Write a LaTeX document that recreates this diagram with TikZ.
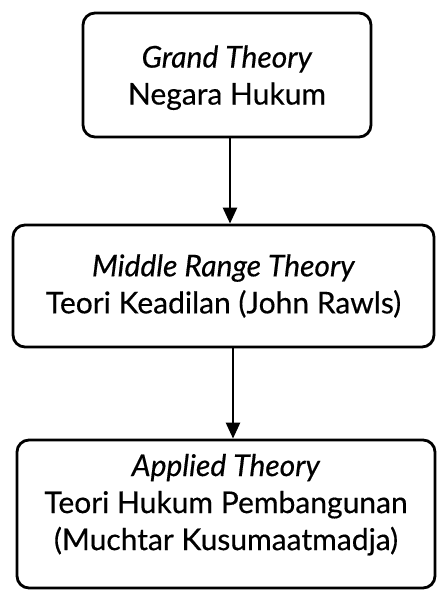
\documentclass[tikz,border=0pt]{standalone}
\usepackage{fontspec}
\setmainfont{Lato}[FakeBold=0.4]
\usetikzlibrary{arrows.meta}
\begin{document}
\begin{tikzpicture}[x=1pt,y=-1pt,
  box/.style={draw=black, line width=2.8pt, rounded corners=12pt, align=center,
    font=\fontsize{30}{37}\selectfont, inner sep=0pt},
  arr/.style={line width=2.6pt, -{Triangle[length=16pt,width=14pt]}}]
\useasboundingbox (0,0) rectangle (437,591);
\node[box, minimum width=288pt, minimum height=124pt, text depth=0pt] (b1) at (227,75)
  {\textit{Grand Theory}\\Negara Hukum};
\node[box, minimum width=421pt, minimum height=122pt] (b2) at (223.5,286)
  {\textit{Middle Range Theory}\\Teori Keadilan (John Rawls)};
\node[box, minimum width=418pt, minimum height=148pt, text depth=24pt] (b3) at (226,514)
  {\textit{Applied Theory}\\Teori Hukum Pembangunan\\(Muchtar Kusumaatmadja)};
\draw[arr] ([xshift=3pt]b1.south) -- ([xshift=6.5pt]b2.north);
\draw[arr] ([xshift=9.5pt]b2.south) -- ([xshift=7pt]b3.north);
\end{tikzpicture}
\end{document}
